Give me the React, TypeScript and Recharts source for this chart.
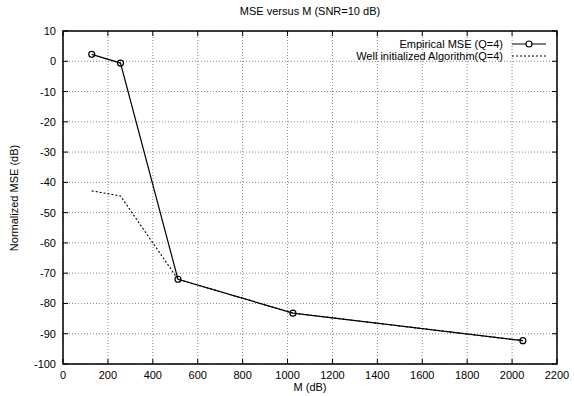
import { LineChart, Line, XAxis, YAxis, CartesianGrid, ReferenceArea } from 'recharts'

document.body.style.margin = '0'

const mValues = [128, 256, 512, 1024, 2048]
const empiricalMse = [2.3, -0.6, -72, -83.2, -92.3]
const wellInitMse = [-42.8, -44.5, -72, -83.2, -92.3]
const xTicks = [0, 200, 400, 600, 800, 1000, 1200, 1400, 1600, 1800, 2000, 2200]
const yTicks = [-100, -90, -80, -70, -60, -50, -40, -30, -20, -10, 0, 10]

const seriesNames = ['Empirical MSE (Q=4)', 'Well initialized Algorithm(Q=4)']

const W = 574
const H = 396
const PLOT_LEFT = 63
const PLOT_RIGHT = 557
const PLOT_TOP = 31
const PLOT_BOTTOM = 364
const FONT = '"Liberation Sans", Arial, sans-serif'

const data = mValues.map((m, i) => ({ m, empirical: empiricalMse[i], wellInit: wellInitMse[i] }))

function XTick({ x, payload }: any) {
  return (
    <g>
      <line x1={x} x2={x} y1={PLOT_BOTTOM} y2={PLOT_BOTTOM - 5} stroke="#000" />
      <line x1={x} x2={x} y1={PLOT_TOP} y2={PLOT_TOP + 5} stroke="#000" />
      <text x={x} y={PLOT_BOTTOM + 15} textAnchor="middle" fontSize={11} fontFamily={FONT} fill="#000">
        {payload.value}
      </text>
    </g>
  )
}

function YTick({ y, payload }: any) {
  return (
    <g>
      <line x1={PLOT_LEFT} x2={PLOT_LEFT + 5} y1={y} y2={y} stroke="#000" />
      <line x1={PLOT_RIGHT} x2={PLOT_RIGHT - 5} y1={y} y2={y} stroke="#000" />
      <text x={PLOT_LEFT - 7} y={y + 4} textAnchor="end" fontSize={11} fontFamily={FONT} fill="#000">
        {payload.value}
      </text>
    </g>
  )
}

function LegendBox() {
  const row = (label: string, dashed: boolean, marker: boolean) => (
    <div key={label} style={{ display: 'flex', alignItems: 'center', justifyContent: 'flex-end', height: 12 }}>
      <span style={{ fontSize: 11, fontFamily: FONT, color: '#000', lineHeight: '12px' }}>{label}</span>
      <svg width={34} height={10} style={{ marginLeft: 9 }}>
        <line x1={0} x2={34} y1={5} y2={5} stroke="#000" strokeWidth={1.2} strokeDasharray={dashed ? '2 2' : undefined} />
        {marker && <circle cx={17} cy={5} r={3} fill="#fff" stroke="#000" strokeWidth={1.2} />}
      </svg>
    </div>
  )
  return (
    <div style={{ position: 'absolute', top: 38, right: W - 546 }}>
      {row(seriesNames[0], false, true)}
      {row(seriesNames[1], true, false)}
    </div>
  )
}

export default function App() {
  return (
    <div style={{ position: 'relative', width: W, height: H, background: '#fff', fontFamily: FONT }}>
      <LineChart
        width={W}
        height={H}
        data={data}
        margin={{ top: PLOT_TOP, right: W - PLOT_RIGHT, bottom: 0, left: PLOT_LEFT - 40 }}
      >
        <CartesianGrid stroke="#888" strokeDasharray="1 2" />
        <XAxis
          dataKey="m"
          type="number"
          domain={[0, 2200]}
          ticks={xTicks}
          axisLine={false}
          tickLine={false}
          tick={<XTick />}
          height={H - PLOT_BOTTOM}
          interval={0}
        />
        <YAxis
          type="number"
          domain={[-100, 10]}
          ticks={yTicks}
          axisLine={false}
          tickLine={false}
          tick={<YTick />}
          width={40}
          interval={0}
        />
        <ReferenceArea x1={0} x2={2200} y1={-100} y2={10} fill="none" stroke="#000" strokeWidth={1.5} ifOverflow="visible" />
        <Line
          dataKey="wellInit"
          stroke="#000"
          strokeWidth={1.1}
          strokeDasharray="2 2"
          dot={false}
          isAnimationActive={false}
        />
        <Line
          dataKey="empirical"
          stroke="#000"
          strokeWidth={1.2}
          dot={{ r: 3, fill: 'none', stroke: '#000', strokeWidth: 1.2 }}
          isAnimationActive={false}
        />
      </LineChart>
      <div style={{ position: 'absolute', top: 5, left: PLOT_LEFT, width: PLOT_RIGHT - PLOT_LEFT, textAlign: 'center', fontSize: 11, color: '#000' }}>
        MSE versus M (SNR=10 dB)
      </div>
      <div style={{ position: 'absolute', top: 381, left: PLOT_LEFT, width: PLOT_RIGHT - PLOT_LEFT, textAlign: 'center', fontSize: 11, color: '#000' }}>
        M (dB)
      </div>
      <div
        style={{
          position: 'absolute',
          left: 14,
          top: (PLOT_TOP + PLOT_BOTTOM) / 2,
          transform: 'translate(-50%, -50%) rotate(-90deg)',
          whiteSpace: 'nowrap',
          fontSize: 11,
          color: '#000',
        }}
      >
        Normalized MSE (dB)
      </div>
      <LegendBox />
    </div>
  )
}
